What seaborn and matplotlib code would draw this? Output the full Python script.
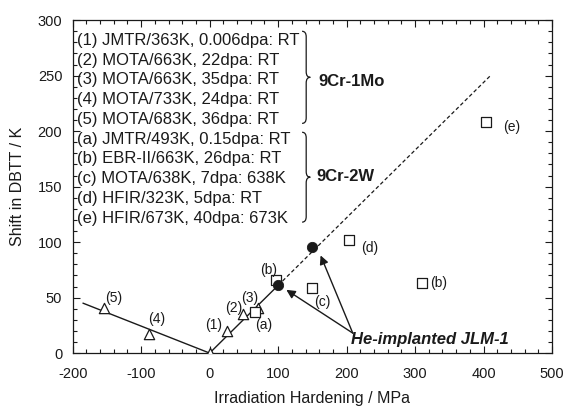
import numpy as np
import pandas as pd
import matplotlib
matplotlib.use("Agg")
import matplotlib.pyplot as plt
from matplotlib.path import Path
from matplotlib.patches import PathPatch
from matplotlib.ticker import MultipleLocator
import seaborn as sns

# 9Cr-1Mo (triangles)
mo_x = [0, 26, 49, 71, -89, -154]
mo_y = [0, 20, 35, 41, 17, 41]
mo_lab = ["", "(1)", "(2)", "(3)", "(4)", "(5)"]
mo_lab_x = [0, 6, 35, 59, -78, -140]
mo_lab_y = [0, 25, 41, 50, 31, 50]

# 9Cr-2W (squares)
w_x = [66, 97, 310, 150, 203, 404]
w_y = [37, 66, 63, 59, 102, 208]
w_lab = ["(a)", "(b)", "(b)", "(c)", "(d)", "(e)"]
w_lab_x = [79, 86, 335, 164, 234, 441]
w_lab_y = [25, 75, 63, 46, 95, 204]

# He-implanted JLM-1 (filled circles)
he_x = [100, 149]
he_y = [61, 96]

# trend lines
solid_x = [-185, 0, 100]
solid_y = [45, 0, 61]
dash_x = [100, 410]
dash_y = [61, 250]

legend_lines = [
    "(1) JMTR/363K, 0.006dpa: RT",
    "(2) MOTA/663K, 22dpa: RT",
    "(3) MOTA/663K, 35dpa: RT",
    "(4) MOTA/733K, 24dpa: RT",
    "(5) MOTA/683K, 36dpa: RT",
    "(a) JMTR/493K, 0.15dpa: RT",
    "(b) EBR-II/663K, 26dpa: RT",
    "(c) MOTA/638K, 7dpa: 638K",
    "(d) HFIR/323K, 5dpa: RT",
    "(e) HFIR/673K, 40dpa: 673K",
]

sns.set_theme(style="ticks")
plt.rcParams['font.family'] = ['Liberation Sans', 'DejaVu Sans']
plt.rcParams['text.color'] = 'k'
plt.rcParams['axes.labelcolor'] = 'k'
plt.rcParams['axes.unicode_minus'] = False

fig = plt.figure(figsize=(5.7, 4.12), dpi=100)
ax = fig.add_axes([0.1275, 0.143, 0.841, 0.808])

sns.lineplot(x=solid_x, y=solid_y, ax=ax, color='k', lw=1, sort=False)
sns.lineplot(x=dash_x, y=dash_y, ax=ax, color='k', lw=0.9, linestyle=(0, (3, 2)), sort=False)

sns.scatterplot(x=mo_x, y=mo_y, ax=ax, marker='^', s=55, facecolor='white',
                edgecolor='k', linewidth=0.9, zorder=3)
sns.scatterplot(x=w_x, y=w_y, ax=ax, marker='s', s=60, facecolor='white',
                edgecolor='k', linewidth=0.9, zorder=3)
sns.scatterplot(x=he_x, y=he_y, ax=ax, marker='o', s=55, color='k',
                edgecolor='k', zorder=4)

for t, x, y in zip(mo_lab + w_lab, mo_lab_x + w_lab_x, mo_lab_y + w_lab_y):
    if t:
        ax.text(x, y, t, fontsize=10, ha='center', va='center')

# arrows from the He-implanted label
for tx, ty in [(112, 57), (162, 88)]:
    ax.annotate("", xy=(tx, ty), xytext=(209, 18),
                arrowprops=dict(arrowstyle='-|>', color='k', lw=1, mutation_scale=13,
                                shrinkA=0, shrinkB=0))
ax.text(207, 12.5, "He-implanted JLM-1", fontsize=12, fontweight='bold',
        fontstyle='italic', ha='left', va='center')

# legend text block
for i, s in enumerate(legend_lines):
    ax.text(-193, 281.8 - i * 17.8, s, fontsize=12, ha='left', va='center')


def brace(ax, x, y0, y1, w=6, d=5):
    ym = (y0 + y1) / 2
    verts = [(x - w, y1), (x, y1), (x, y1 - d),
             (x, ym + d),
             (x, ym), (x + w, ym),
             (x, ym), (x, ym - d),
             (x, y0 + d),
             (x, y0), (x - w, y0)]
    codes = [Path.MOVETO, Path.CURVE3, Path.CURVE3,
             Path.LINETO,
             Path.CURVE3, Path.CURVE3,
             Path.CURVE3, Path.CURVE3,
             Path.LINETO,
             Path.CURVE3, Path.CURVE3]
    ax.add_patch(PathPatch(Path(verts, codes), fill=False, lw=0.9, ec='k'))


brace(ax, 141, 207, 290)
brace(ax, 141, 118, 199)
ax.text(159, 245, "9Cr-1Mo", fontsize=12, fontweight='bold', ha='left', va='center')
ax.text(156, 159, "9Cr-2W", fontsize=12, fontweight='bold', ha='left', va='center')

ax.set_xlim(-200, 500)
ax.set_ylim(0, 300)
ax.xaxis.set_major_locator(MultipleLocator(100))
ax.xaxis.set_minor_locator(MultipleLocator(20))
ax.yaxis.set_major_locator(MultipleLocator(50))
ax.yaxis.set_minor_locator(MultipleLocator(10))
ax.tick_params(which='both', direction='in', top=True, right=True, labelsize=10.5,
               colors='k', width=0.8)
ax.tick_params(which='major', length=5)
ax.tick_params(which='minor', length=3)
ax.tick_params(axis='x', which='major', pad=10)
ax.tick_params(axis='y', which='major', pad=7.5)
for sp in ax.spines.values():
    sp.set_color('k')
    sp.set_linewidth(0.9)

ax.set_xlabel("Irradiation Hardening / MPa", fontsize=11.5)
ax.set_ylabel("Shift in DBTT / K", fontsize=11.5)
ax.xaxis.set_label_coords(0.5, -0.115)
ax.yaxis.set_label_coords(-0.1, 0.5)

fig.savefig("out.png", dpi=100)
